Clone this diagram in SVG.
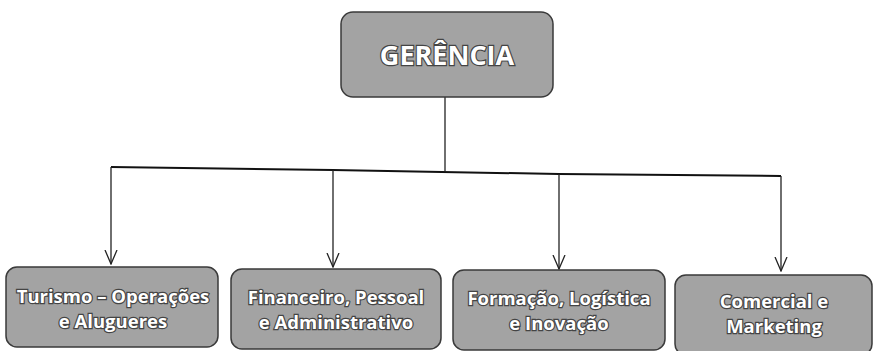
<svg xmlns="http://www.w3.org/2000/svg" width="875" height="351" viewBox="0 0 875 351">
<defs>
<style>
.box{fill:#a3a3a3;stroke:#3a3a3a;stroke-width:1.5}
.t{font-family:"Open Sans","Liberation Sans",sans-serif;font-weight:bold;fill:#fff;stroke:#444;stroke-width:2.4;paint-order:stroke;text-anchor:middle}
.s{font-size:18.5px}
.big{font-size:27px}
.ln{fill:none;stroke:#222;stroke-width:1.3}
.hl{fill:none;stroke:#111;stroke-width:2}
</style>
<marker id="ah" viewBox="0 0 15 14" refX="14" refY="7" markerWidth="15" markerHeight="14" markerUnits="userSpaceOnUse" orient="auto">
<path d="M0,1 L14,7 L0,13" fill="none" stroke="#222" stroke-width="1.3"/>
</marker>
</defs>
<rect width="875" height="351" fill="#fff"/>
<g id="connectors">
<line class="ln" x1="445" y1="97" x2="445" y2="171"/>
<path class="hl" d="M111,167 L333,170 L559,174 L781,176"/>
<line class="ln" x1="111" y1="167" x2="111" y2="264" marker-end="url(#ah)"/>
<line class="ln" x1="333" y1="170" x2="333" y2="267" marker-end="url(#ah)"/>
<line class="ln" x1="559" y1="174" x2="559" y2="269" marker-end="url(#ah)"/>
<line class="ln" x1="781" y1="176" x2="781" y2="271" marker-end="url(#ah)"/>
</g>
<g id="gerencia">
<rect class="box" x="341" y="12" width="212" height="85" rx="12"/>
<text class="t big" x="447" y="65">GERÊNCIA</text>
</g>
<g id="turismo">
<rect class="box" x="6" y="267" width="212" height="80" rx="11"/>
<text class="t s" x="113" y="303">Turismo – Operações</text>
<text class="t s" x="113" y="328">e Alugueres</text>
</g>
<g id="financeiro">
<rect class="box" x="231" y="269" width="210" height="80" rx="11"/>
<text class="t s" x="336" y="304">Financeiro, Pessoal</text>
<text class="t s" x="336" y="329">e Administrativo</text>
</g>
<g id="formacao">
<rect class="box" x="453" y="270" width="212" height="80" rx="11"/>
<text class="t s" x="559" y="305">Formação, Logística</text>
<text class="t s" x="559" y="330">e Inovação</text>
</g>
<g id="comercial">
<rect class="box" x="675" y="275" width="197" height="80" rx="11"/>
<text class="t s" x="774" y="308">Comercial e</text>
<text class="t s" x="774" y="333">Marketing</text>
</g>
</svg>
